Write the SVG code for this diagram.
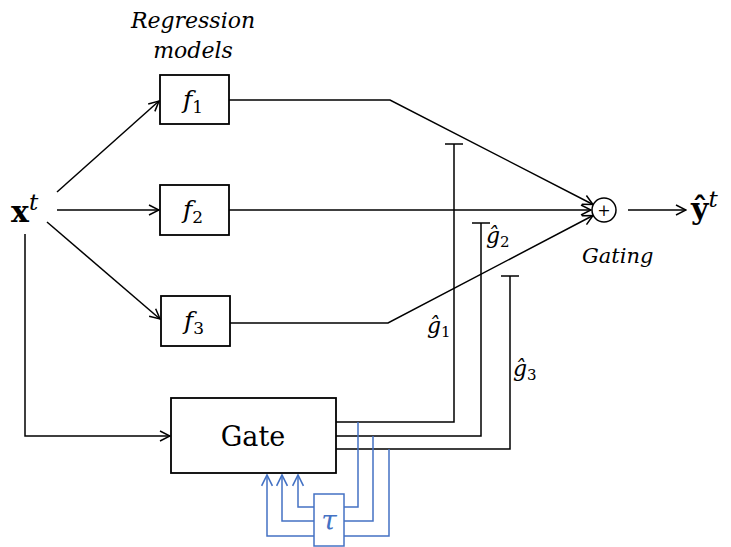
<svg xmlns="http://www.w3.org/2000/svg" width="731" height="547" viewBox="0 0 731 547">
<defs>
<marker id="arr" viewBox="0 0 12 12" refX="11" refY="6" markerWidth="12" markerHeight="12" markerUnits="userSpaceOnUse" orient="auto">
<path d="M1,1 L11,6 L1,11" fill="none" stroke="#000" stroke-width="1.5"/>
</marker>
<marker id="barr" viewBox="0 0 12 12" refX="11" refY="6" markerWidth="13" markerHeight="13" markerUnits="userSpaceOnUse" orient="auto">
<path d="M1,1 L11,6 L1,11" fill="none" stroke="#4472C4" stroke-width="1.5"/>
</marker>
</defs>
<style>
.box{fill:#fff;stroke:#000;stroke-width:1.8}
.ln{fill:none;stroke:#000;stroke-width:1.5}
.bl{fill:none;stroke:#4472C4;stroke-width:1.5}
.serif{font-family:"DejaVu Serif","Liberation Serif",serif;fill:#000}
.it{font-style:italic}
.bd{font-weight:bold}
</style>
<rect width="731" height="547" fill="#fff"/>

<g id="connectors">
<line class="ln" x1="57" y1="192" x2="159" y2="101" marker-end="url(#arr)"/>
<line class="ln" x1="57" y1="210" x2="159" y2="210" marker-end="url(#arr)"/>
<line class="ln" x1="47" y1="222" x2="160" y2="319" marker-end="url(#arr)"/>
<polyline class="ln" points="25,234 25,436 170,436" marker-end="url(#arr)"/>
<polyline class="ln" points="229,100 390,100 593,204.5" marker-end="url(#arr)"/>
<line class="ln" x1="229" y1="210" x2="591" y2="210" marker-end="url(#arr)"/>
<polyline class="ln" points="230,323 388,323 593,215.5" marker-end="url(#arr)"/>
<line class="ln" x1="628" y1="210" x2="686" y2="210" marker-end="url(#arr)"/>
<polyline class="ln" points="336,422 454,422 454,144"/>
<line class="ln" x1="445" y1="144" x2="463" y2="144"/>
<polyline class="ln" points="336,436 481,436 481,223"/>
<line class="ln" x1="472" y1="223" x2="490" y2="223"/>
<polyline class="ln" points="336,449 510,449 510,276"/>
<line class="ln" x1="501" y1="276" x2="519" y2="276"/>
<polyline class="bl" points="358,422 358,507 344,507"/>
<polyline class="bl" points="373,436 373,521 344,521"/>
<polyline class="bl" points="389,449 389,536 344,536"/>
<polyline class="bl" points="314,507 298,507 298,475" marker-end="url(#barr)"/>
<polyline class="bl" points="314,521 282,521 282,475" marker-end="url(#barr)"/>
<polyline class="bl" points="314,536 267,536 267,475" marker-end="url(#barr)"/>
</g>

<g id="title">
<text class="serif it" x="193" y="28" font-size="22" text-anchor="middle">Regression</text>
<text class="serif it" x="193" y="58" font-size="22" text-anchor="middle">models</text>
</g>

<g id="xt">
<text class="serif bd" x="11" y="222" font-size="30">x<tspan class="it" font-weight="normal" font-size="23" dy="-12">t</tspan></text>
</g>

<g id="f1">
<rect class="box" x="160" y="75" width="69" height="49"/>
<text class="serif it" x="183" y="108" font-size="25">f<tspan font-style="normal" font-size="17" dy="5">1</tspan></text>
</g>
<g id="f2">
<rect class="box" x="160" y="185" width="69" height="50"/>
<text class="serif it" x="183" y="218" font-size="25">f<tspan font-style="normal" font-size="17" dy="5">2</tspan></text>
</g>
<g id="f3">
<rect class="box" x="161" y="296" width="69" height="50"/>
<text class="serif it" x="184" y="329" font-size="25">f<tspan font-style="normal" font-size="17" dy="5">3</tspan></text>
</g>

<g id="gate">
<rect class="box" x="171" y="398" width="165" height="75"/>
<text class="serif" x="253" y="446" font-size="27" text-anchor="middle">Gate</text>
</g>

<g id="tau">
<rect x="314" y="494" width="30" height="52" fill="#fff" stroke="#4472C4" stroke-width="1.5"/>
<text class="serif it" x="329" y="530" font-size="28" text-anchor="middle" style="fill:#4472C4">τ</text>
</g>

<g id="gating">
<circle cx="604" cy="210" r="12" fill="#fff" stroke="#000" stroke-width="1.5"/>
<text class="serif" x="604" y="216" font-size="16" text-anchor="middle">+</text>
<text class="serif it" x="582" y="263" font-size="21">Gating</text>
</g>

<g id="yt">
<text class="serif bd" x="691" y="219" font-size="30">ŷ<tspan class="it" font-weight="normal" font-size="23" dy="-12">t</tspan></text>
</g>

<g id="labels">
<text class="serif it" x="427" y="333" font-size="22">ĝ<tspan font-style="normal" font-size="15" dy="4">1</tspan></text>
<text class="serif it" x="486" y="243" font-size="22">ĝ<tspan font-style="normal" font-size="15" dy="4">2</tspan></text>
<text class="serif it" x="513" y="376" font-size="22">ĝ<tspan font-style="normal" font-size="15" dy="4">3</tspan></text>
</g>
</svg>
